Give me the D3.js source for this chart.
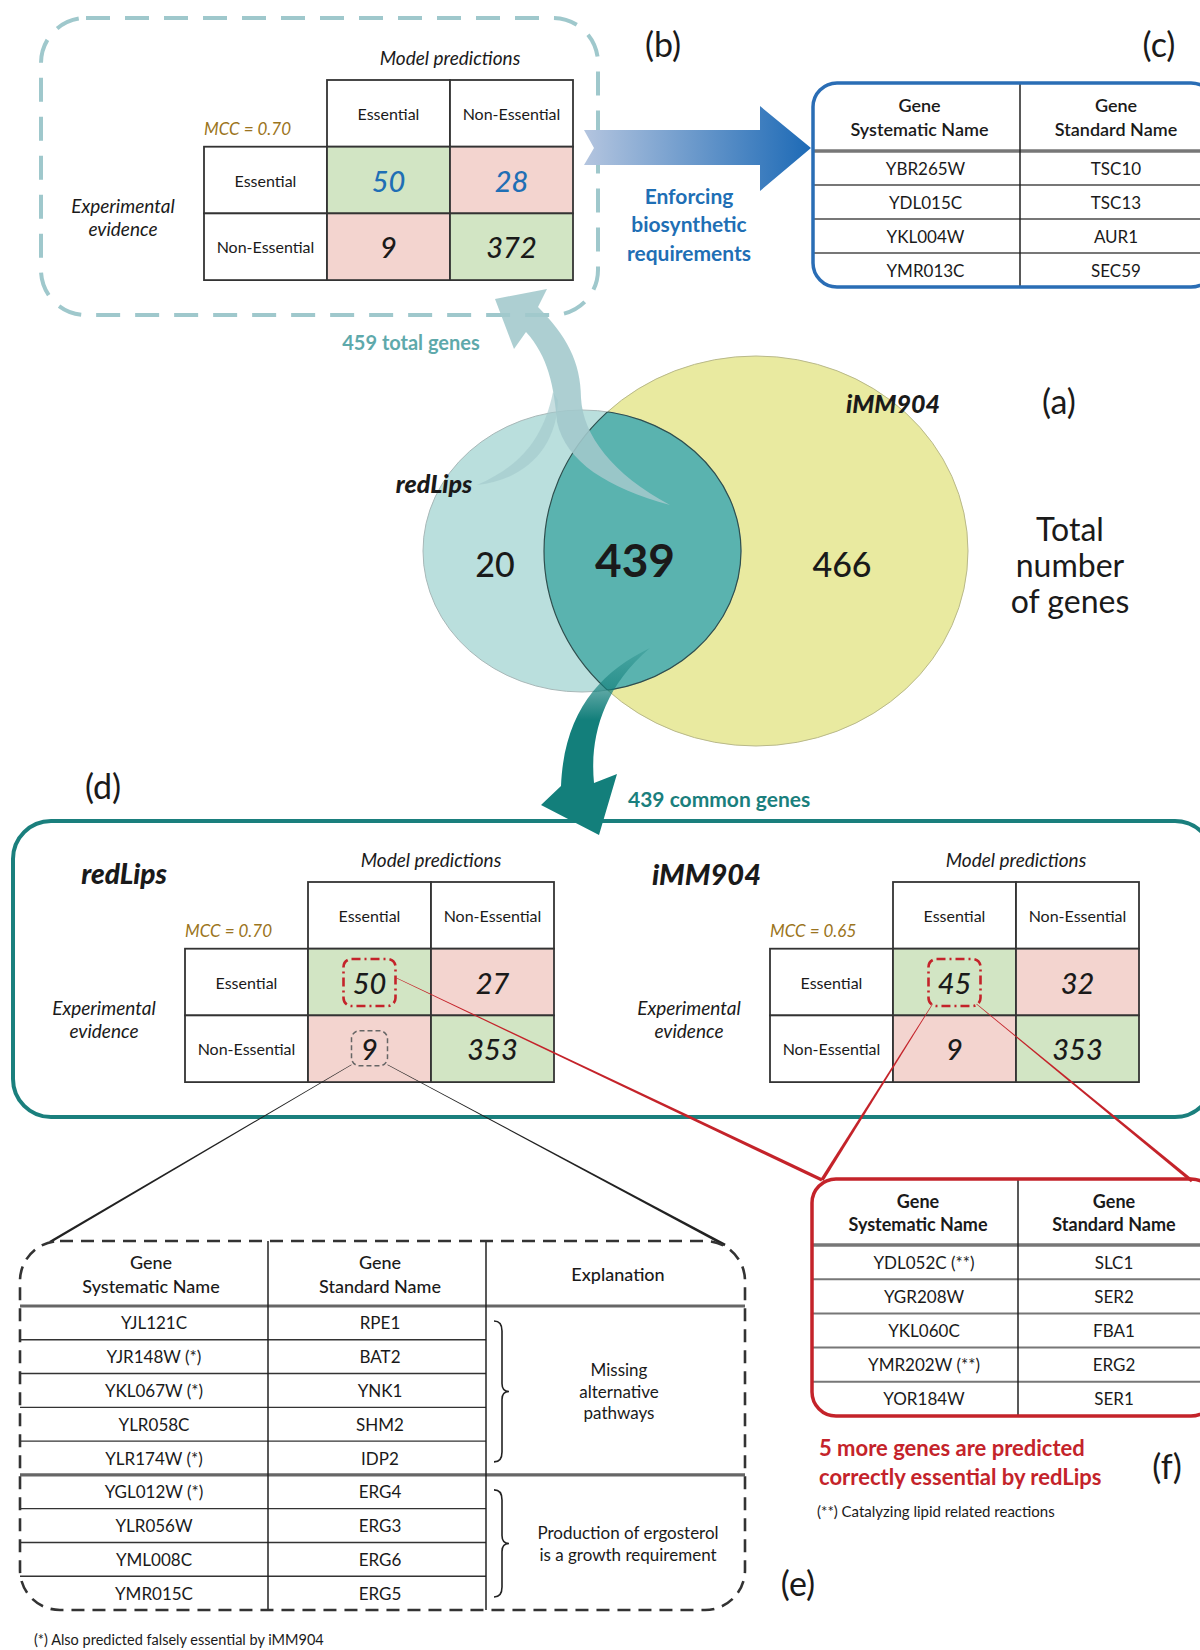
<!DOCTYPE html>
<html><head><meta charset="utf-8">
<script src="https://cdn.jsdelivr.net/npm/d3@7"></script>
<style>body{margin:0;background:#fff}svg{display:block}text{font-family:Lato,"Open Sans",sans-serif}</style>
</head><body><svg id="c" width="1200" height="1650"></svg>
<script>
// ---------------- DATA ----------------
const vennSets = ["redLips", "iMM904"];
const vennCounts = [20, 439, 466]; // only redLips, common, only iMM904
const vennNote = ["Total", "number", "of genes"];
const predLabels = ["Essential", "Non-Essential"];
const expLabels = ["Essential", "Non-Essential"];
const cmTotal = [[50, 28], [9, 372]];
const cmRedLips = [[50, 27], [9, 353]];
const cmIMM904 = [[45, 32], [9, 353]];
const mccLabels = ["MCC = 0.70", "MCC = 0.70", "MCC = 0.65"];
const flowLabels = ["459 total genes", "439 common genes"];
const enforceLabel = ["Enforcing", "biosynthetic", "requirements"];
const geneHeaders = [["Gene", "Systematic Name"], ["Gene", "Standard Name"], ["Explanation"]];
const tableCSys = ["YBR265W", "YDL015C", "YKL004W", "YMR013C"];
const tableCStd = ["TSC10", "TSC13", "AUR1", "SEC59"];
const tableESys = ["YJL121C", "YJR148W (*)", "YKL067W (*)", "YLR058C", "YLR174W (*)", "YGL012W (*)", "YLR056W", "YML008C", "YMR015C"];
const tableEStd = ["RPE1", "BAT2", "YNK1", "SHM2", "IDP2", "ERG4", "ERG3", "ERG6", "ERG5"];
const tableEGroups = [[0, 4], [5, 8]];
const tableEExpl = [["Missing", "alternative", "pathways"], ["Production of ergosterol", "is a growth requirement"]];
const tableFSys = ["YDL052C (**)", "YGR208W", "YKL060C", "YMR202W (**)", "YOR184W"];
const tableFStd = ["SLC1", "SER2", "FBA1", "ERG2", "SER1"];
const noteF = ["5 more genes are predicted", "correctly essential by redLips"];
const footF = "(**) Catalyzing lipid related reactions";
const footE = "(*) Also predicted falsely essential by iMM904";
const panelLabels = ["(a)", "(b)", "(c)", "(d)", "(e)", "(f)"];

// ---------------- DRAW ----------------
const svg = d3.select("#c");
const defs = svg.append("defs");
const C = {teal:"#1a7f7d", lteal:"#9fc8cc", blue:"#1f6fb5", red:"#c4232a", gold:"#9b7420",
  green:"#d2e5c4", pink:"#f3d4cf", dark:"#222"};

function txt(g, x, y, s, o = {}) {
  return g.append("text").attr("x", x).attr("y", y).text(s)
    .attr("text-anchor", o.anchor || "middle").attr("dominant-baseline", "central")
    .attr("font-size", o.size || 17).attr("font-weight", o.weight || 400)
    .attr("font-style", o.style || "normal").attr("fill", o.fill || "#1a1a1a");
}
function taper(g, x1, y1, x2, y2, w1, w2, fill) {
  const dx = x2 - x1, dy = y2 - y1, L = Math.hypot(dx, dy), nx = -dy / L, ny = dx / L;
  const pts = [[x1 + nx * w1 / 2, y1 + ny * w1 / 2], [x2 + nx * w2 / 2, y2 + ny * w2 / 2],
               [x2 - nx * w2 / 2, y2 - ny * w2 / 2], [x1 - nx * w1 / 2, y1 - ny * w1 / 2]];
  g.append("path").attr("d", d3.line()(pts) + "Z").attr("fill", fill);
}

// ---- (b) dashed box
svg.append("rect").attr("x", 41).attr("y", 18).attr("width", 557).attr("height", 297).attr("rx", 45)
  .attr("fill", "none").attr("stroke", C.lteal).attr("stroke-width", 4).attr("stroke-dasharray", "24,15");

// ---- confusion matrix
function matrix(x0, y0, m, mcc, numColors) {
  const g = svg.append("g");
  const cw = 123, rh = 66.7;
  const x = d3.scaleBand().domain(predLabels).range([x0 + cw, x0 + 3 * cw]);
  const y = d3.scaleBand().domain(expLabels).range([y0 + rh, y0 + 3 * rh]);
  predLabels.forEach(p => {
    g.append("rect").attr("x", x(p)).attr("y", y0).attr("width", x.bandwidth()).attr("height", rh)
      .attr("fill", "#fff").attr("stroke", "#333").attr("stroke-width", 1.8);
    txt(g, x(p) + x.bandwidth() / 2, y0 + rh / 2, p, {size: 16});
  });
  expLabels.forEach(e => {
    g.append("rect").attr("x", x0).attr("y", y(e)).attr("width", cw).attr("height", y.bandwidth())
      .attr("fill", "#fff").attr("stroke", "#333").attr("stroke-width", 1.8);
    txt(g, x0 + cw / 2, y(e) + y.bandwidth() / 2, e, {size: 16});
  });
  expLabels.forEach((e, i) => predLabels.forEach((p, j) => {
    g.append("rect").attr("x", x(p)).attr("y", y(e)).attr("width", x.bandwidth()).attr("height", y.bandwidth())
      .attr("fill", i === j ? C.green : C.pink).attr("stroke", "#333").attr("stroke-width", 1.8);
    txt(g, x(p) + x.bandwidth() / 2, y(e) + y.bandwidth() / 2, m[i][j],
      {size: 29, style: "italic", weight: 500, fill: numColors[i][j]});
  }));
  txt(g, x0 + 2 * cw, y0 - 23, "Model predictions", {size: 19, style: "italic"});
  txt(g, x0, y0 + 48, mcc, {size: 17, style: "italic", fill: C.gold, anchor: "start"});
  txt(g, x0 - 81, y0 + 1.5 * rh + 25, "Experimental", {size: 19, style: "italic"});
  txt(g, x0 - 81, y0 + 1.5 * rh + 48, "evidence", {size: 19, style: "italic"});
  return {x, y};
}
const blk = "#1a1a1a";
matrix(204, 80, cmTotal, mccLabels[0], [[C.blue, C.blue], [blk, blk]]);

// ---- blue arrow
const bg = defs.append("linearGradient").attr("id", "bg").attr("x1", 0).attr("x2", 1).attr("y1", 0).attr("y2", 0);
bg.append("stop").attr("offset", 0).attr("stop-color", "#b4c5df");
bg.append("stop").attr("offset", 1).attr("stop-color", "#1d6ab6");
svg.append("path").attr("d", "M584,130 L760,130 L760,106 L811,148 L760,191 L760,165 L584,165 L594,148 Z")
  .attr("fill", "url(#bg)");
enforceLabel.forEach((s, i) => txt(svg, 689, 195 + i * 28.5, s, {size: 21, weight: 700, fill: C.blue}));

// ---- gene table helper
function geneTable(x0, x1, y0, hh, rh, colX, sys, std, stroke, hdrWeight) {
  const g = svg.append("g");
  const y = d3.scaleBand().domain(d3.range(sys.length)).range([y0 + hh, y0 + hh + rh * sys.length]);
  const yEnd = y0 + hh + rh * sys.length;
  const clip = "clip" + Math.round(y0);
  defs.append("clipPath").attr("id", clip).append("rect").attr("x", x0).attr("y", y0)
    .attr("width", x1 - x0).attr("height", yEnd - y0).attr("rx", 24);
  const gi = g.append("g").attr("clip-path", `url(#${clip})`);
  gi.append("line").attr("x1", x0).attr("x2", x1).attr("y1", y0 + hh).attr("y2", y0 + hh)
    .attr("stroke", "#777").attr("stroke-width", 3.5);
  d3.range(1, sys.length).forEach(i => gi.append("line").attr("x1", x0).attr("x2", x1)
    .attr("y1", y(i)).attr("y2", y(i)).attr("stroke", "#777").attr("stroke-width", 2));
  gi.append("line").attr("x1", colX).attr("x2", colX).attr("y1", y0).attr("y2", yEnd)
    .attr("stroke", "#222").attr("stroke-width", 1.5);
  const c1 = (x0 + colX) / 2 + 3, c2 = colX + 96;
  txt(g, c1, y0 + hh * 0.33, geneHeaders[0][0], {size: 18, weight: hdrWeight});
  txt(g, c1, y0 + hh * 0.68, geneHeaders[0][1], {size: 18, weight: hdrWeight});
  txt(g, c2, y0 + hh * 0.33, geneHeaders[1][0], {size: 18, weight: hdrWeight});
  txt(g, c2, y0 + hh * 0.68, geneHeaders[1][1], {size: 18, weight: hdrWeight});
  sys.forEach((s, i) => {
    txt(g, c1 + 6, y(i) + y.bandwidth() / 2, s, {size: 17});
    txt(g, c2, y(i) + y.bandwidth() / 2, std[i], {size: 17});
  });
  g.append("rect").attr("x", x0).attr("y", y0).attr("width", x1 - x0).attr("height", yEnd - y0)
    .attr("rx", 24).attr("fill", "none").attr("stroke", stroke).attr("stroke-width", 3.5);
}
geneTable(813, 1215, 83, 68, 34, 1020, tableCSys, tableCStd, "#2a6db5", 600);

// ---- Venn
const L = {cx: 582, cy: 551, rx: 159, ry: 141}, R = {cx: 756, cy: 551, rx: 212, ry: 195};
defs.append("clipPath").attr("id", "cR").append("ellipse").attr("cx", R.cx).attr("cy", R.cy).attr("rx", R.rx).attr("ry", R.ry);
defs.append("clipPath").attr("id", "cL").append("ellipse").attr("cx", L.cx).attr("cy", L.cy).attr("rx", L.rx).attr("ry", L.ry);
const ell = (o, fill, stroke, sw) => svg.append("ellipse").attr("cx", o.cx).attr("cy", o.cy)
  .attr("rx", o.rx).attr("ry", o.ry).attr("fill", fill).attr("stroke", stroke).attr("stroke-width", sw);
ell(R, "#e9eaa0", "#b9b98a", 1);
ell(L, "#badfdd", "#a8b8b8", 1);
ell(L, "#5ab3af", "none", 0).attr("clip-path", "url(#cR)");
ell(L, "none", "#2f4f4e", 1.2).attr("clip-path", "url(#cR)");
ell(R, "none", "#2f4f4e", 1.2).attr("clip-path", "url(#cL)");
txt(svg, 495, 563, vennCounts[0], {size: 34, weight: 500});
txt(svg, 635, 559, vennCounts[1], {size: 46, weight: 700});
txt(svg, 842, 563, vennCounts[2], {size: 34, weight: 500});
txt(svg, 434, 483, vennSets[0], {size: 25, weight: 900, style: "italic"});
txt(svg, 893, 403, vennSets[1], {size: 25, weight: 900, style: "italic"});
vennNote.forEach((s, i) => txt(svg, 1070, 528 + i * 36, s, {size: 32}));

// ---- light curved arrow
const la = svg.append("g").attr("fill", "#a2c8cc");
la.append("path").attr("opacity", 0.6)
  .attr("d", "M558,400 C557,448 525,480 477,485 C520,466 543,440 553,392 Z");
la.append("path").attr("opacity", 0.88)
  .attr("d", "M495,299 L547,289 L538,307 C566,335 581,362 581,398 C583,435 612,474 670,505 C608,488 566,462 557,422 C554,386 548,356 526,332 L514,349 Z");
txt(svg, 411, 342, flowLabels[0], {size: 20, weight: 700, fill: "#5ea9ab"});

// ---- dark curved arrow
const dg = defs.append("linearGradient").attr("id", "dg").attr("gradientUnits", "userSpaceOnUse")
  .attr("x1", 0).attr("x2", 0).attr("y1", 648).attr("y2", 720);
dg.append("stop").attr("offset", 0).attr("stop-color", "#137f7b").attr("stop-opacity", 0.25);
dg.append("stop").attr("offset", 1).attr("stop-color", "#137f7b").attr("stop-opacity", 1);
svg.append("rect").attr("x", 13).attr("y", 821).attr("width", 1200).attr("height", 296).attr("rx", 38)
  .attr("fill", "none").attr("stroke", C.teal).attr("stroke-width", 4);
svg.append("path").attr("fill", "url(#dg)")
  .attr("d", "M650,648 C600,672 564,712 561,786 L541,805 L599,835 L617,774 L594,783 C590,742 600,690 650,648 Z");
txt(svg, 628, 798, flowLabels[1], {size: 21, weight: 700, fill: C.teal, anchor: "start"});

// ---- (d) matrices
const m1 = matrix(185, 882, cmRedLips, mccLabels[1], [[blk, blk], [blk, blk]]);
const m2 = matrix(770, 882, cmIMM904, mccLabels[2], [[blk, blk], [blk, blk]]);
txt(svg, 124, 873, vennSets[0], {size: 28, weight: 900, style: "italic"});
txt(svg, 652, 873, vennSets[1], {size: 29, weight: 900, style: "italic", anchor: "start"});

// highlight boxes
function hbox(x, y, w, h, stroke, dash, sw) {
  svg.append("rect").attr("x", x).attr("y", y).attr("width", w).attr("height", h).attr("rx", 8)
    .attr("fill", "none").attr("stroke", stroke).attr("stroke-width", sw).attr("stroke-dasharray", dash);
}
const cx50 = m1.x(predLabels[0]) + m1.x.bandwidth() / 2, cy50 = m1.y(expLabels[0]) + m1.y.bandwidth() / 2;
const cy9 = m1.y(expLabels[1]) + m1.y.bandwidth() / 2;
const cx45 = m2.x(predLabels[0]) + m2.x.bandwidth() / 2;
hbox(cx50 - 26, cy50 - 23, 52, 47, C.red, "9,4,2,4", 2.6);
hbox(cx45 - 26, cy50 - 23, 52, 47, C.red, "9,4,2,4", 2.6);
hbox(cx50 - 18, cy9 - 18, 36, 35, "#666", "5,3", 1.5);

// connector lines
taper(svg, cx50 + 27, cy50 - 4, 822, 1180, 0.6, 3.4, C.red);
taper(svg, cx45 - 22, cy50 + 22, 822, 1180, 0.6, 3.4, C.red);
taper(svg, cx45 + 22, cy50 + 22, 1192, 1181, 0.6, 3.4, C.red);
taper(svg, cx50 - 18, cy9 + 16, 50, 1242, 0.4, 2.6, "#222");
taper(svg, cx50 + 18, cy9 + 16, 725, 1245, 0.4, 2.6, "#222");

// ---- (f) table
geneTable(812, 1215, 1179, 66, 34.2, 1018, tableFSys, tableFStd, C.red, 700);
noteF.forEach((s, i) => txt(svg, 819, 1447 + i * 29, s, {size: 22, weight: 700, fill: C.red, anchor: "start"}));
txt(svg, 817, 1511, footF, {size: 15, anchor: "start"});

// ---- (e) table
(function () {
  const g = svg.append("g");
  const x0 = 20, x1 = 745, y0 = 1241, hh = 65, c1 = 268, c2 = 486;
  const y = d3.scaleBand().domain(d3.range(tableESys.length)).range([y0 + hh, 1610]);
  const yEnd = 1610;
  g.append("line").attr("x1", x0).attr("x2", x1).attr("y1", y0 + hh).attr("y2", y0 + hh).attr("stroke", "#666").attr("stroke-width", 3.2);
  tableESys.forEach((s, i) => {
    if (i === 0) return;
    const full = tableEGroups.some(gr => gr[0] === i);
    g.append("line").attr("x1", x0).attr("x2", full ? x1 : c2).attr("y1", y(i)).attr("y2", y(i))
      .attr("stroke", full ? "#666" : "#333").attr("stroke-width", full ? 3.2 : 1.4);
  });
  [c1, c2].forEach(cx => g.append("line").attr("x1", cx).attr("x2", cx).attr("y1", y0).attr("y2", yEnd)
    .attr("stroke", "#222").attr("stroke-width", 1.5));
  txt(g, 151, 1262, geneHeaders[0][0], {size: 18, weight: 500});
  txt(g, 151, 1286, geneHeaders[0][1], {size: 18, weight: 500});
  txt(g, 380, 1262, geneHeaders[1][0], {size: 18, weight: 500});
  txt(g, 380, 1286, geneHeaders[1][1], {size: 18, weight: 500});
  txt(g, 618, 1274, geneHeaders[2][0], {size: 18, weight: 500});
  tableESys.forEach((s, i) => {
    txt(g, 154, y(i) + y.bandwidth() / 2, s, {size: 17});
    txt(g, 380, y(i) + y.bandwidth() / 2, tableEStd[i], {size: 17});
  });
  tableEGroups.forEach((gr, k) => {
    const ya = y(gr[0]) + 15, yb = y(gr[1]) + y.bandwidth() - 13, ym = (ya + yb) / 2, bx = 494;
    g.append("path").attr("fill", "none").attr("stroke", "#222").attr("stroke-width", 1.6)
      .attr("d", `M${bx},${ya} Q${bx + 8},${ya} ${bx + 8},${ya + 10} L${bx + 8},${ym - 8} Q${bx + 8},${ym} ${bx + 15},${ym} Q${bx + 8},${ym} ${bx + 8},${ym + 8} L${bx + 8},${yb - 10} Q${bx + 8},${yb} ${bx},${yb}`);
    const lines = tableEExpl[k];
    lines.forEach((s, j) => txt(g, k === 0 ? 619 : 628, ym + (j - (lines.length - 1) / 2) * 21.5, s, {size: 17}));
  });
  g.append("rect").attr("x", x0).attr("y", y0).attr("width", x1 - x0).attr("height", yEnd - y0).attr("rx", 40)
    .attr("fill", "none").attr("stroke", "#333").attr("stroke-width", 2.6).attr("stroke-dasharray", "13,8");
  txt(svg, 34, 1639, footE, {size: 14.5, anchor: "start"});
})();

// ---- panel labels
const lp = [[1059, 400], [663, 43], [1159, 43], [103, 785], [798, 1582], [1167, 1465]];
panelLabels.forEach((s, i) => txt(svg, lp[i][0], lp[i][1], s, {size: 34, weight: 400}));
</script></body></html>
